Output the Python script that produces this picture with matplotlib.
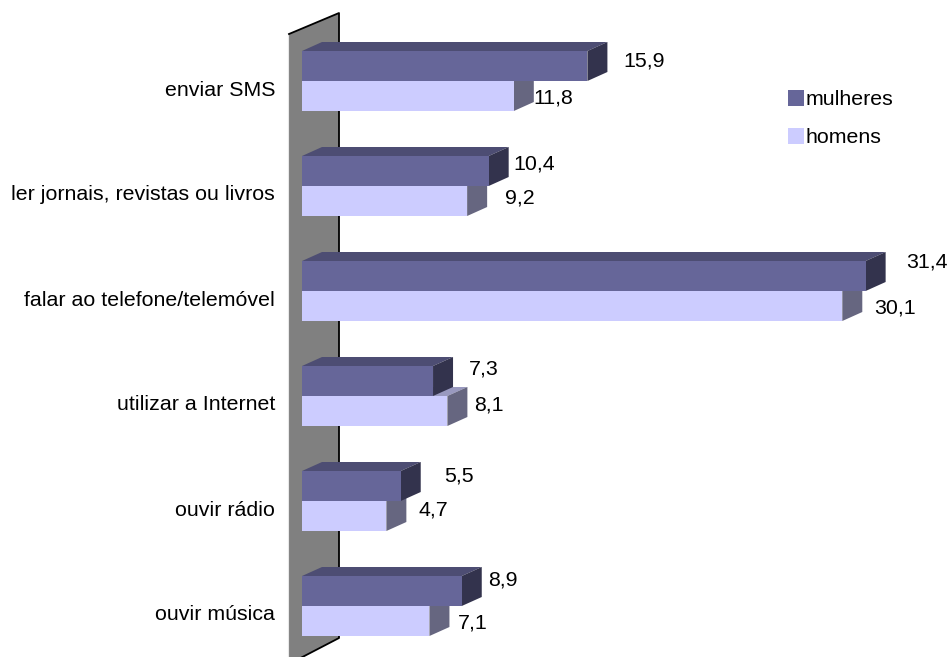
import matplotlib
matplotlib.use('Agg')
import matplotlib.pyplot as plt
from matplotlib.patches import Patch, Polygon

plt.rcParams['font.family'] = ['Liberation Sans', 'DejaVu Sans']

categories = ['enviar SMS', 'ler jornais, revistas ou livros', 'falar ao telefone/telemóvel',
              'utilizar a Internet', 'ouvir rádio', 'ouvir música']
mulheres = [15.9, 10.4, 31.4, 7.3, 5.5, 8.9]
homens = [11.8, 9.2, 30.1, 8.1, 4.7, 7.1]

W, H = 952, 657
X0 = 302
PX_X = 17.95   # pixels per unit on the value axis
PX_Y = 105.0   # pixels between categories
Y0 = 81        # pixel row of first category
BAR_H = 30 / PX_Y
DX = 20 / PX_X
DY = 9 / PX_Y
FS = 15.4

# label offsets from the bar end, in pixels, the labels were moved by hand
off_m = [(57, -20), (46, -22), (61, -29), (51, -27), (58, -25), (41, -26)]
off_h = [(39, 17), (53, 12), (53, 17), (41, 9), (47, 9), (43, 17)]


def side(ax, x, top, bottom, face, zorder):
    ax.add_patch(Polygon([(x, top), (x + DX, top - DY), (x + DX, bottom - DY), (x, bottom)],
                         closed=True, fc=face, ec='none', zorder=zorder))


def lid(ax, x, top, face, zorder):
    ax.add_patch(Polygon([(0, top), (DX, top - DY), (x + DX, top - DY), (x, top)],
                         closed=True, fc=face, ec='none', zorder=zorder))


fig = plt.figure(figsize=(W / 100, H / 100), dpi=100)
ax = fig.add_axes([X0 / W, 0, 1 - X0 / W, 1])
ax.set_xlim(0, (W - X0) / PX_X)
ax.set_ylim((H - Y0) / PX_Y, -Y0 / PX_Y)
for s in ax.spines.values():
    s.set_visible(False)
ax.set_xticks([])
# category names sit a little under the line between the two bars
ax.set_yticks([i + 7 / PX_Y for i in range(len(categories))])
ax.set_yticklabels(categories, fontsize=FS, color='black')
ax.tick_params(axis='y', length=0, pad=19.4)

# the grey wall behind the bars
wl, wr = -13 / PX_X, 37 / PX_X
wall_top_l, wall_top_r = (34 - Y0) / PX_Y, (13 - Y0) / PX_Y
wall_bot_r, wall_bot_l = (638 - Y0) / PX_Y, (664 - Y0) / PX_Y
ax.add_patch(Polygon([(wl, wall_top_l), (wr, wall_top_r), (wr, wall_bot_r), (wl, wall_bot_l)],
                     closed=True, fc='#808080', ec='none', zorder=1, clip_on=False))
ax.plot([wl, wr, wr, wl], [wall_top_l, wall_top_r, wall_bot_r, wall_bot_l], color='black',
        lw=1.3, zorder=1.5, clip_on=False)
# faint line just left of the wall
ax.plot([wl - 1.5 / PX_X] * 2, [wall_top_l, wall_bot_l], color='#e8e8e8', lw=0.8, zorder=1, clip_on=False)

ypos = list(range(len(categories)))
for i in ypos:
    lid(ax, homens[i], i, '#9999BF', 2)
    side(ax, homens[i], i, i + BAR_H, '#666680', 2)
    lid(ax, mulheres[i], i - BAR_H, '#4D4D73', 3)
    side(ax, mulheres[i], i - BAR_H, i, '#33334D', 3)

ax.barh(ypos, homens, height=BAR_H, align='edge', color='#CCCCFF', zorder=2.5)
ax.barh([y - BAR_H for y in ypos], mulheres, height=BAR_H, align='edge', color='#666699', zorder=3.5)

for i in ypos:
    ax.text(mulheres[i] + off_m[i][0] / PX_X, i + off_m[i][1] / PX_Y, '{:.1f}'.format(mulheres[i]).replace('.', ','),
            ha='center', va='center', fontsize=FS, zorder=5)
    ax.text(homens[i] + off_h[i][0] / PX_X, i + off_h[i][1] / PX_Y, '{:.1f}'.format(homens[i]).replace('.', ','),
            ha='center', va='center', fontsize=FS, zorder=5)

handles = [Patch(fc='#666699', label='mulheres'), Patch(fc='#CCCCFF', label='homens')]
ax.legend(handles=handles, loc='upper left', bbox_to_anchor=((788 - X0) / (W - X0), 1 - 90 / H), frameon=False,
          fontsize=FS, handlelength=0.75, handleheight=0.75, handletextpad=0.05, labelspacing=0.88,
          borderpad=0, borderaxespad=0)

plt.savefig('out.png', dpi=100)
